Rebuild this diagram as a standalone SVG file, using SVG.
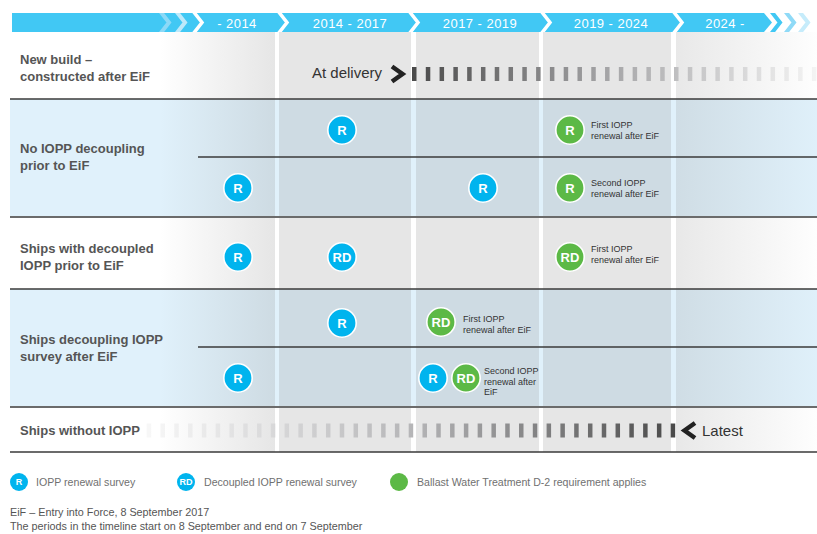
<svg xmlns="http://www.w3.org/2000/svg" width="817" height="534" viewBox="0 0 817 534">
  <defs>
    <style>
      .hdr { font-family: "Liberation Sans", Arial, sans-serif; font-size: 13px; fill: #ffffff; letter-spacing: 0.45px; text-anchor: middle; }
      .lbl { font-family: "Liberation Sans", Arial, sans-serif; font-size: 13px; font-weight: bold; fill: #555555; }
      .big { font-family: "Liberation Sans", Arial, sans-serif; font-size: 15px; fill: #333333; }
      .note { font-family: "Liberation Sans", Arial, sans-serif; font-size: 9px; fill: #333333; }
      .mk { font-family: "Liberation Sans", Arial, sans-serif; font-size: 13px; font-weight: bold; fill: #ffffff; text-anchor: middle; }
      .lg { font-family: "Liberation Sans", Arial, sans-serif; font-size: 10.6px; fill: #707070; }
      .lgk { font-family: "Liberation Sans", Arial, sans-serif; font-size: 9px; font-weight: bold; fill: #ffffff; text-anchor: middle; }
      .foot { font-family: "Liberation Sans", Arial, sans-serif; font-size: 10.8px; fill: #555555; }
      .blue { fill: #00b4ee; stroke: #ffffff; stroke-width: 1.6; }
      .green { fill: #5cb946; stroke: #ffffff; stroke-width: 1.6; }
      .sep { fill: none; stroke: #ffffff; stroke-width: 3.5; stroke-linejoin: miter; }
      .shade { fill: #8d8d8d; opacity: 0.22; }
      .rule { stroke: #3a3a3a; stroke-width: 1.5; }
      .rule2 { stroke: #6b6b6b; stroke-width: 2; }
    </style>
    <clipPath id="band">
      <rect x="0" y="13" width="817" height="19"/>
    </clipPath>
    <linearGradient id="fadeIn" gradientUnits="userSpaceOnUse" x1="160" y1="0" x2="275" y2="0">
      <stop offset="0" stop-color="#8d8d8d" stop-opacity="0"/>
      <stop offset="1" stop-color="#8d8d8d" stop-opacity="0.22"/>
    </linearGradient>
    <linearGradient id="fadeOut" gradientUnits="userSpaceOnUse" x1="676" y1="0" x2="817" y2="0">
      <stop offset="0" stop-color="#8d8d8d" stop-opacity="0.2"/>
      <stop offset="1" stop-color="#8d8d8d" stop-opacity="0.01"/>
    </linearGradient>
    <linearGradient id="dashRight" gradientUnits="userSpaceOnUse" x1="412" y1="0" x2="817" y2="0">
      <stop offset="0" stop-color="#4a4a4a"/>
      <stop offset="0.5" stop-color="#a8a8aa"/>
      <stop offset="1" stop-color="#f4f4f4"/>
    </linearGradient>
    <linearGradient id="dashLeft" gradientUnits="userSpaceOnUse" x1="150" y1="0" x2="676" y2="0">
      <stop offset="0" stop-color="#f7f7f7"/>
      <stop offset="0.5" stop-color="#b5b5b7"/>
      <stop offset="1" stop-color="#4a4a4a"/>
    </linearGradient>
  </defs>

  <rect width="817" height="534" fill="#ffffff"/>

  <!-- row backgrounds -->
  <g id="rows">
    <rect x="10" y="99" width="807" height="118" fill="#e0f1fb"/>
    <rect x="10" y="289" width="807" height="118" fill="#e0f1fb"/>
  </g>

  <!-- period columns -->
  <g id="columns">
    <rect x="12" y="32" width="263" height="420" fill="url(#fadeIn)"/>
    <rect class="shade" x="279" y="32" width="132" height="420"/>
    <rect class="shade" x="416" y="32" width="123" height="420"/>
    <rect class="shade" x="543" y="32" width="128" height="420"/>
    <rect x="676" y="32" width="141" height="420" fill="url(#fadeOut)"/>
  </g>

  <!-- row rules -->
  <g id="rules">
    <line class="rule" x1="10" y1="99" x2="817" y2="99"/>
    <line class="rule" x1="198" y1="157" x2="817" y2="157"/>
    <line class="rule2" x1="10" y1="217" x2="817" y2="217"/>
    <line class="rule" x1="10" y1="289" x2="817" y2="289"/>
    <line class="rule" x1="198" y1="347" x2="817" y2="347"/>
    <line class="rule2" x1="10" y1="407" x2="817" y2="407"/>
    <line class="rule" x1="10" y1="452" x2="817" y2="452"/>
  </g>

  <!-- timeline header -->
  <g id="header">
    <polygon points="12,13 764,13 772,22.5 764,32 12,32" fill="#41c8f4"/>
    <g clip-path="url(#band)">
      <polyline points="160,11 169,22.5 160,34" fill="none" stroke="#8bd9f7" stroke-width="4"/>
      <polyline points="176,11 185,22.5 176,34" fill="none" stroke="#bde9fa" stroke-width="4"/>
      <polyline class="sep" points="193,11 202,22.5 193,34"/>
      <polyline class="sep" points="278,11 287,22.5 278,34"/>
      <polyline class="sep" points="409,11 418,22.5 409,34"/>
      <polyline class="sep" points="541,11 550,22.5 541,34"/>
      <polyline class="sep" points="673,11 682,22.5 673,34"/>
      <polyline points="771,11 780,22.5 771,34" fill="none" stroke="#41c8f4" stroke-width="4"/>
      <polyline points="785,11 794,22.5 785,34" fill="none" stroke="#8fdaf7" stroke-width="4"/>
      <polyline points="799,11 808,22.5 799,34" fill="none" stroke="#c6ecfb" stroke-width="4"/>
    </g>
    <text class="hdr" x="237" y="27.5">- 2014</text>
    <text class="hdr" x="350" y="27.5">2014 - 2017</text>
    <text class="hdr" x="480" y="27.5">2017 - 2019</text>
    <text class="hdr" x="611" y="27.5">2019 - 2024</text>
    <text class="hdr" x="725" y="27.5">2024 -</text>
  </g>

  <!-- row labels -->
  <g id="label-new-build">
    <text class="lbl" x="20" y="64">New build –</text>
    <text class="lbl" x="20" y="81">constructed after EiF</text>
  </g>
  <g id="label-no-decoupling">
    <text class="lbl" x="20" y="153">No IOPP decoupling</text>
    <text class="lbl" x="20" y="170">prior to EiF</text>
  </g>
  <g id="label-decoupled-prior">
    <text class="lbl" x="20" y="253">Ships with decoupled</text>
    <text class="lbl" x="20" y="270">IOPP prior to EiF</text>
  </g>
  <g id="label-decoupling-after">
    <text class="lbl" x="20" y="344">Ships decoupling IOPP</text>
    <text class="lbl" x="20" y="361">survey after EiF</text>
  </g>
  <g id="label-without">
    <text class="lbl" x="20" y="435">Ships without IOPP</text>
  </g>

  <!-- dashed timelines -->
  <g id="connectors">
    <path d="M412,74 H817" fill="none" stroke="url(#dashRight)" stroke-width="14" stroke-dasharray="4.5 9.29"/>
    <path d="M675.2,430.5 H140" fill="none" stroke="url(#dashLeft)" stroke-width="14" stroke-dasharray="4.5 9.29"/>
  </g>

  <g id="at-delivery">
    <text class="big" x="312" y="78">At delivery</text>
    <polyline points="392,66.5 402.5,74 392,81.5" fill="none" stroke="#222222" stroke-width="4.5"/>
  </g>
  <g id="latest">
    <polyline points="695,423 684.5,430.5 695,438" fill="none" stroke="#222222" stroke-width="4.5"/>
    <text class="big" x="702" y="436">Latest</text>
  </g>

  <!-- survey markers -->
  <g id="m1"><circle class="blue" cx="342" cy="130" r="14.2"/><text class="mk" x="342" y="134.6">R</text></g>
  <g id="m2">
    <circle class="green" cx="570" cy="130" r="14.2"/><text class="mk" x="570" y="134.6">R</text>
    <text class="note" x="591" y="128">First IOPP</text>
    <text class="note" x="591" y="139">renewal after EiF</text>
  </g>
  <g id="m3"><circle class="blue" cx="238" cy="188" r="14.2"/><text class="mk" x="238" y="192.6">R</text></g>
  <g id="m4"><circle class="blue" cx="483" cy="188" r="14.2"/><text class="mk" x="483" y="192.6">R</text></g>
  <g id="m5">
    <circle class="green" cx="570" cy="188" r="14.2"/><text class="mk" x="570" y="192.6">R</text>
    <text class="note" x="591" y="186">Second IOPP</text>
    <text class="note" x="591" y="197">renewal after EiF</text>
  </g>
  <g id="m6"><circle class="blue" cx="238" cy="257" r="14.2"/><text class="mk" x="238" y="261.6">R</text></g>
  <g id="m7"><circle class="blue" cx="342" cy="257" r="14.2"/><text class="mk" x="342" y="261.6">RD</text></g>
  <g id="m8">
    <circle class="green" cx="570" cy="257" r="14.2"/><text class="mk" x="570" y="261.6">RD</text>
    <text class="note" x="591" y="252">First IOPP</text>
    <text class="note" x="591" y="263">renewal after EiF</text>
  </g>
  <g id="m9"><circle class="blue" cx="342" cy="323" r="14.2"/><text class="mk" x="342" y="327.6">R</text></g>
  <g id="m10">
    <circle class="green" cx="441" cy="322" r="14.2"/><text class="mk" x="441" y="326.6">RD</text>
    <text class="note" x="463" y="322">First IOPP</text>
    <text class="note" x="463" y="333">renewal after EiF</text>
  </g>
  <g id="m11"><circle class="blue" cx="238" cy="378" r="14.2"/><text class="mk" x="238" y="382.6">R</text></g>
  <g id="m12"><circle class="blue" cx="433" cy="378" r="14.2"/><text class="mk" x="433" y="382.6">R</text></g>
  <g id="m13">
    <circle class="green" cx="466" cy="378" r="14.2"/><text class="mk" x="466" y="382.6">RD</text>
    <text class="note" x="484" y="374">Second IOPP</text>
    <text class="note" x="484" y="384.5">renewal after</text>
    <text class="note" x="484" y="395">EiF</text>
  </g>

  <!-- legend -->
  <g id="legend">
    <circle cx="19" cy="482" r="9" fill="#00b4ee"/><text class="lgk" x="19" y="485.3">R</text>
    <text class="lg" x="36" y="485.5">IOPP renewal survey</text>
    <circle cx="186" cy="482" r="9" fill="#00b4ee"/><text class="lgk" x="186" y="485.3">RD</text>
    <text class="lg" x="204" y="485.5">Decoupled IOPP renewal survey</text>
    <circle cx="399" cy="482" r="9" fill="#5cb946"/>
    <text class="lg" x="417" y="485.5">Ballast Water Treatment D-2 requirement applies</text>
  </g>

  <g id="footnotes">
    <text class="foot" x="10" y="516">EiF – Entry into Force, 8 September 2017</text>
    <text class="foot" x="10" y="530">The periods in the timeline start on 8 September and end on 7 September</text>
  </g>
</svg>
